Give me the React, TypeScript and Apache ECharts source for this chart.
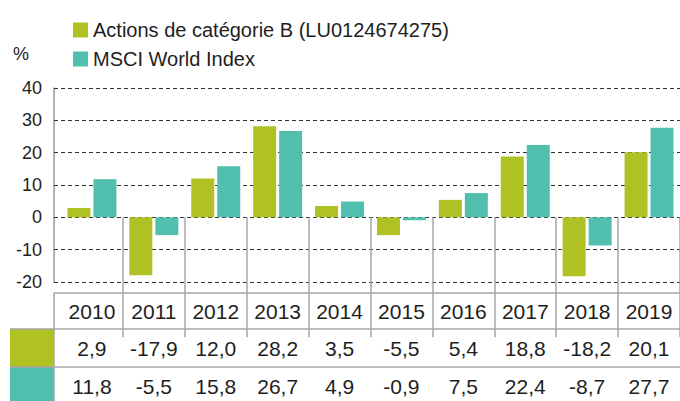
import React, { useEffect, useRef } from 'react';
import * as echarts from 'echarts';

const years = ['2010', '2011', '2012', '2013', '2014', '2015', '2016', '2017', '2018', '2019'];
const seriesNames = ['Actions de catégorie B (LU0124674275)', 'MSCI World Index'];
const fundValues = [2.9, -17.9, 12.0, 28.2, 3.5, -5.5, 5.4, 18.8, -18.2, 20.1];
const indexValues = [11.8, -5.5, 15.8, 26.7, 4.9, -0.9, 7.5, 22.4, -8.7, 27.7];
const yMin = -20;
const yMax = 40;
const yStep = 10;
const unitLabel = '%';
const colors = ['#b0c223', '#50bfae'];

const FONT = '"Liberation Sans", Arial, Helvetica, sans-serif';
const TEXT = '#1e1e1e';
const LINE = '#a6a6a6';

const fmt = (v: number) => v.toFixed(1).replace('.', ',');

export default function App() {
  const ref = useRef<HTMLDivElement>(null);
  useEffect(() => {
    if (!ref.current) return;
    const chart = echarts.init(ref.current, null, { renderer: 'svg' });
    const W = 680;
    const tableTop = 293;
    const row1 = 329;
    const row2 = 367;
    const bottom = 401;
    chart.setOption({
      animation: false,
      textStyle: { fontFamily: FONT },
      color: colors,
      legend: {
        orient: 'vertical',
        left: 68,
        top: 15,
        itemWidth: 15,
        itemHeight: 15,
        itemGap: 9,
        icon: 'rect',
        selectedMode: false,
        textStyle: { fontSize: 20, lineHeight: 20, color: TEXT, fontFamily: FONT },
        data: seriesNames,
      },
      grid: { left: 61, right: -3, top: 88, bottom: 119, containLabel: false },
      xAxis: {
        type: 'category',
        data: years,
        position: 'bottom',
        offset: 11,
        axisLine: { show: false },
        axisTick: {
          show: true,
          length: 120,
          interval: (i: number) => i !== 0,
          lineStyle: { color: LINE, width: 1.5 },
        },
        axisLabel: {
          interval: 0,
          margin: 0,
          formatter: (v: string, i: number) =>
            `{y|${v}}\n{a|${fmt(fundValues[i])}}\n{b|${fmt(indexValues[i])}}`,
          rich: {
            y: { fontSize: 21, lineHeight: 36, color: TEXT, fontFamily: FONT },
            a: { fontSize: 21, lineHeight: 38, color: TEXT, fontFamily: FONT },
            b: { fontSize: 21, lineHeight: 38, color: TEXT, fontFamily: FONT },
          },
        },
      },
      yAxis: {
        type: 'value',
        min: yMin,
        max: yMax,
        interval: yStep,
        offset: 7,
        axisLine: { show: true, lineStyle: { color: '#9a9a9a', width: 1.5 } },
        axisTick: {
          show: true,
          inside: true,
          length: 7,
          lineStyle: { color: '#333', width: 1, type: [4, 3] },
        },
        splitLine: { show: true, lineStyle: { color: '#333', width: 1, type: [4, 3] } },
        axisLabel: { margin: 12, fontSize: 18, color: TEXT, fontFamily: FONT },
      },
      series: [
        {
          name: seriesNames[0],
          type: 'bar',
          data: fundValues,
          barWidth: 23,
          barGap: '13%',
          itemStyle: { color: colors[0] },
        },
        {
          name: seriesNames[1],
          type: 'bar',
          data: indexValues,
          barWidth: 23,
          barGap: '13%',
          itemStyle: { color: colors[1] },
        },
      ],
      graphic: [
        {
          type: 'text',
          left: 13,
          top: 45,
          style: { text: unitLabel, fontSize: 18, fill: TEXT, fontFamily: FONT },
        },
        {
          type: 'rect',
          shape: { x: 10, y: row1, width: 44, height: row2 - row1 },
          style: { fill: colors[0] },
        },
        {
          type: 'rect',
          shape: { x: 10, y: row2, width: 44, height: bottom - row2 + 5 },
          style: { fill: colors[1] },
        },
        {
          type: 'line',
          shape: { x1: 54, y1: tableTop, x2: W, y2: tableTop },
          style: { stroke: LINE, lineWidth: 1.5 },
        },
        {
          type: 'line',
          shape: { x1: 10, y1: row1, x2: W, y2: row1 },
          style: { stroke: LINE, lineWidth: 1.5 },
        },
        {
          type: 'line',
          shape: { x1: 10, y1: row2, x2: W, y2: row2 },
          style: { stroke: LINE, lineWidth: 1.5 },
        },
        {
          type: 'line',
          shape: { x1: 54, y1: tableTop, x2: 54, y2: bottom + 5 },
          style: { stroke: LINE, lineWidth: 1.5 },
        },
      ],
    });
    return () => chart.dispose();
  }, []);
  return (
    <div
      ref={ref}
      style={{ position: 'absolute', left: 0, top: 0, width: 680, height: 401 }}
    />
  );
}
